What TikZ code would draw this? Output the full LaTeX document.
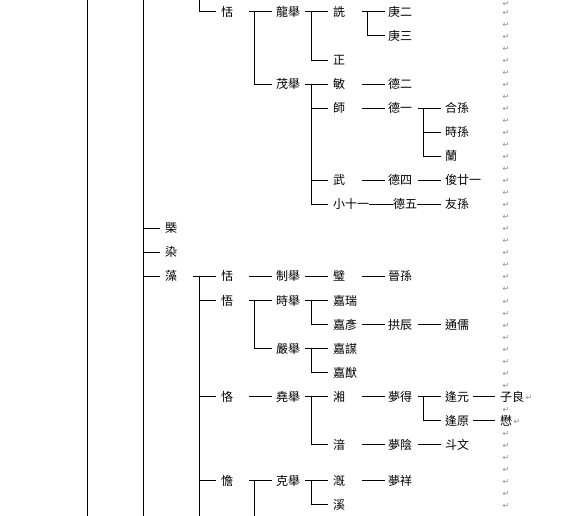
\documentclass[tikz,border=0pt]{standalone}
\usepackage{fontspec}
\newfontfamily\cjk{Noto Sans CJK TC}
\newfontfamily\djv{DejaVu Sans}
\begin{document}
\begin{tikzpicture}[x=1pt,y=-1pt,
  lw/.style={line width=1pt},
  nm/.style={font={\cjk\fontsize{12}{12}\selectfont}, anchor=west, inner sep=0pt, text height=10.56pt, text depth=1.44pt},
  rmk/.style={font={\djv\fontsize{8}{8}\selectfont}, text=black!45, inner sep=0pt}]
\fill[white] (0,0) rectangle (565,516);
\useasboundingbox (0,0) rectangle (565,516);
% column coordinates
\coordinate (v0) at (87,0);   \coordinate (v0b) at (87,516);
\coordinate (v1) at (143,0);  \coordinate (v1b) at (143,516); \coordinate (t1) at (160,0);
\coordinate (s2) at (193,0);  \coordinate (v2) at (199,0); \coordinate (v2b) at (199,516); \coordinate (t2) at (216,0);
\coordinate (s3) at (249,0);  \coordinate (v3) at (254,0); \coordinate (v3b) at (254,516); \coordinate (t3) at (272,0);
\coordinate (s4) at (305,0);  \coordinate (v4) at (311,0); \coordinate (t4) at (328,0);
\coordinate (s5) at (362,0);  \coordinate (v5) at (367,0); \coordinate (t5) at (385,0);
\coordinate (s6) at (418,0);  \coordinate (v6) at (423,0); \coordinate (t6) at (441,0);
\coordinate (s7) at (473,0);  \coordinate (t7) at (495,0);
% upper part
\node[nm] (a1) at (221,12.0) {恬};
\node[nm] (b1) at (276,12.0) {龍舉};
\node[nm] (b2) at (276,84.1) {茂舉};
\node[nm] (c1) at (333,12.0) {詵};
\node[nm] (c2) at (333,60.1) {正};
\node[nm] (d1) at (388,12.0) {庚二};
\node[nm] (d2) at (388,36.0) {庚三};
\node[nm] (c3) at (333,84.1) {敏};
\node[nm] (c4) at (333,108.2) {師};
\node[nm] (c5) at (333,180.3) {武};
\node[nm] (c6) at (333,204.3) {小十一};
\node[nm] (d3) at (388,84.1) {德二};
\node[nm] (d4) at (388,108.2) {德一};
\node[nm] (e1) at (445,108.2) {合孫};
\node[nm] (e2) at (445,132.2) {時孫};
\node[nm] (e3) at (445,156.2) {蘭};
\node[nm] (d5) at (388,180.3) {德四};
\node[nm] (e4) at (445,180.3) {俊廿一};
\node[nm] (d6) at (393,204.3) {德五};
\node[nm] (e5) at (445,204.3) {友孫};
% middle
\node[nm] (g1) at (165,228.4) {槩};
\node[nm] (g2) at (165,252.4) {染};
\node[nm] (g3) at (165,276.4) {藻};
\node[nm] (h1) at (221,276.4) {恬};
\node[nm] (h2) at (221,300.5) {悟};
\node[nm] (h3) at (221,396.6) {恪};
\node[nm] (h4) at (221,480.8) {憺};
\node[nm] (i1) at (276,276.4) {制舉};
\node[nm] (j1) at (333,276.4) {璧};
\node[nm] (k1) at (388,276.4) {晉孫};
\node[nm] (i2) at (276,300.5) {時舉};
\node[nm] (j2) at (333,300.5) {嘉瑞};
\node[nm] (j3) at (333,324.5) {嘉彥};
\node[nm] (k2) at (388,324.5) {拱辰};
\node[nm] (l1) at (445,324.5) {通儒};
\node[nm] (i3) at (276,348.6) {嚴舉};
\node[nm] (j4) at (333,348.6) {嘉謀};
\node[nm] (j5) at (333,372.6) {嘉猷};
\node[nm] (i4) at (276,396.6) {堯舉};
\node[nm] (j6) at (333,396.6) {湘};
\node[nm] (k3) at (388,396.6) {夢得};
\node[nm] (l2) at (445,396.6) {逢元};
\node[nm] (m1) at (500,396.6) {子良};
\node[nm] (l3) at (445,420.7) {逢原};
\node[nm] (m2) at (500,420.7) {懋};
\node[nm] (j7) at (333,444.7) {湆};
\node[nm] (k4) at (388,444.7) {夢陰};
\node[nm] (l4) at (445,444.7) {斗文};
\node[nm] (i5) at (276,480.8) {克舉};
\node[nm] (j8) at (333,480.8) {漑};
\node[nm] (j9) at (333,504.8) {溪};
\node[nm] (k5) at (388,480.8) {夢祥};
% connectors
\draw[lw] (v0) -- (v0b);
\draw[lw] (v1) -- (v1b);
\draw[lw] (v2) -- (v2 |- a1) -- (t2 |- a1);
\draw[lw] (s3 |- a1) -- (t3 |- a1);
\draw[lw] (v3 |- b1) -- (v3 |- b2) -- (t3 |- b2);
\draw[lw] (s4 |- b1) -- (t4 |- b1);
\draw[lw] (v4 |- c1) -- (v4 |- c2) -- (t4 |- c2);
\draw[lw] (s5 |- c1) -- (t5 |- c1);
\draw[lw] (v5 |- d1) -- (v5 |- d2) -- (t5 |- d2);
\draw[lw] (s4 |- b2) -- (t4 |- b2);
\draw[lw] (v4 |- c3) -- (v4 |- c6) -- (t4 |- c6);
\draw[lw] (v4 |- c4) -- (t4 |- c4);
\draw[lw] (v4 |- c5) -- (t4 |- c5);
\draw[lw] (s5 |- c3) -- (t5 |- c3);
\draw[lw] (s5 |- c4) -- (t5 |- c4);
\draw[lw] (s6 |- d4) -- (t6 |- d4);
\draw[lw] (v6 |- e1) -- (v6 |- e3) -- (t6 |- e3);
\draw[lw] (v6 |- e2) -- (t6 |- e2);
\draw[lw] (s5 |- c5) -- (t5 |- c5);
\draw[lw] (s6 |- d5) -- (t6 |- d5);
\draw[lw] (c6.east) -- (d6.west);
\draw[lw] (d6.east) -- (t6 |- d6);
\draw[lw] (v1 |- g1) -- (t1 |- g1);
\draw[lw] (v1 |- g2) -- (t1 |- g2);
\draw[lw] (v1 |- g3) -- (t1 |- g3);
\draw[lw] (s2 |- g3) -- (t2 |- g3);
\draw[lw] (v2 |- h1) -- (v2b);
\draw[lw] (v2 |- h2) -- (t2 |- h2);
\draw[lw] (v2 |- h3) -- (t2 |- h3);
\draw[lw] (v2 |- h4) -- (t2 |- h4);
\draw[lw] (s3 |- h1) -- (t3 |- h1);
\draw[lw] (s4 |- i1) -- (t4 |- i1);
\draw[lw] (s5 |- j1) -- (t5 |- j1);
\draw[lw] (s3 |- h2) -- (t3 |- h2);
\draw[lw] (v3 |- i2) -- (v3 |- i3) -- (t3 |- i3);
\draw[lw] (s4 |- i2) -- (t4 |- i2);
\draw[lw] (v4 |- j2) -- (v4 |- j3) -- (t4 |- j3);
\draw[lw] (s5 |- j3) -- (t5 |- j3);
\draw[lw] (s6 |- k2) -- (t6 |- k2);
\draw[lw] (s4 |- i3) -- (t4 |- i3);
\draw[lw] (v4 |- j4) -- (v4 |- j5) -- (t4 |- j5);
\draw[lw] (s3 |- h3) -- (t3 |- h3);
\draw[lw] (s4 |- i4) -- (t4 |- i4);
\draw[lw] (v4 |- j6) -- (v4 |- j7) -- (t4 |- j7);
\draw[lw] (s5 |- j6) -- (t5 |- j6);
\draw[lw] (s6 |- k3) -- (t6 |- k3);
\draw[lw] (v6 |- l2) -- (v6 |- l3) -- (t6 |- l3);
\draw[lw] (s7 |- l2) -- (t7 |- l2);
\draw[lw] (s7 |- l3) -- (t7 |- l3);
\draw[lw] (s5 |- j7) -- (t5 |- j7);
\draw[lw] (s6 |- k4) -- (t6 |- k4);
\draw[lw] (s3 |- h4) -- (t3 |- h4);
\draw[lw] (v3 |- h4) -- (v3b);
\draw[lw] (s4 |- i5) -- (t4 |- i5);
\draw[lw] (v4 |- j8) -- (v4 |- j9) -- (t4 |- j9);
\draw[lw] (s5 |- j8) -- (t5 |- j8);
% paragraph marks
\node[rmk] (rm0) at (506,4) {↵};
\foreach \k in {1,...,32,34,36,37,...,42} {
  \node[rmk] (rm\k) at (506,{12.02*\k+1}) {↵};
}
\node[rmk, anchor=west] (rmA) at ([xshift=1pt,yshift=-1pt]m1.east) {↵};
\node[rmk, anchor=west] (rmB) at ([xshift=1pt,yshift=-1pt]m2.east) {↵};
\end{tikzpicture}
\end{document}
